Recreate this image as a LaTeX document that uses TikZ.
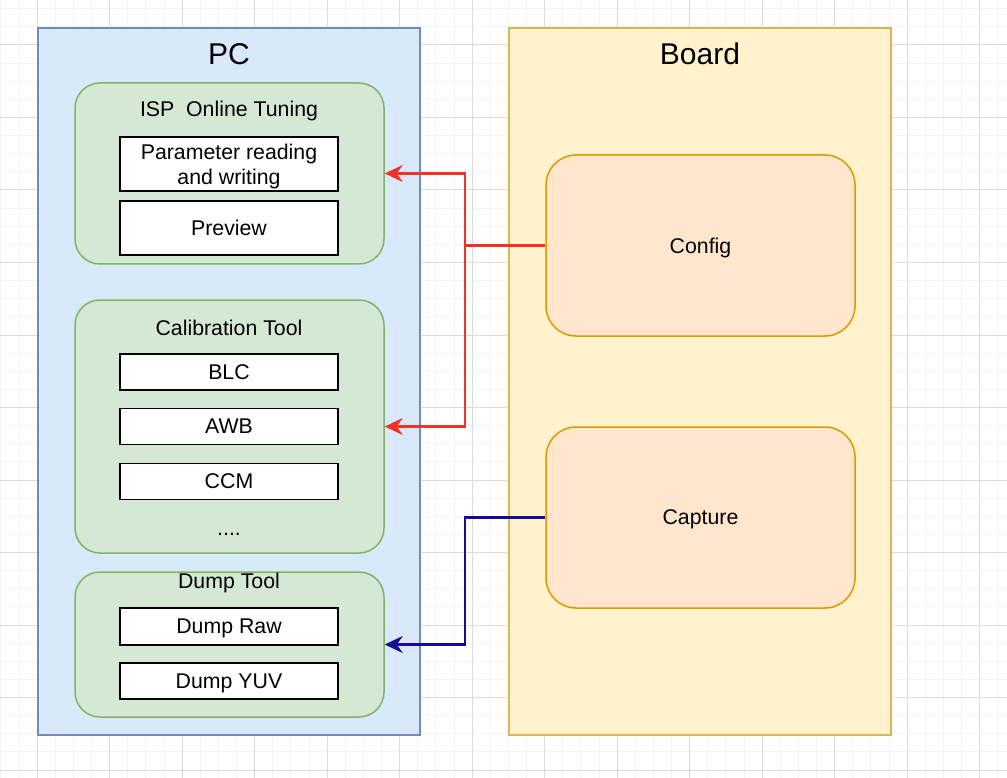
\documentclass[tikz,border=0pt]{standalone}
\usepackage{fontspec}
\setmainfont{Liberation Sans}
\usepackage{tikz}
\usetikzlibrary{arrows.meta,calc}

\definecolor{pcfill}{HTML}{DAE8FC}
\definecolor{pcline}{HTML}{6C8EBF}
\definecolor{bdfill}{HTML}{FFF2CC}
\definecolor{bdline}{HTML}{D6B656}
\definecolor{grfill}{HTML}{D5E8D4}
\definecolor{grline}{HTML}{82B366}
\definecolor{orfill}{HTML}{FFE6CC}
\definecolor{orline}{HTML}{D79B00}
\definecolor{redline}{RGB}{240,50,40}
\definecolor{blueline}{RGB}{24,10,150}
\definecolor{minorgrid}{RGB}{243,243,243}
\definecolor{majorgrid}{RGB}{218,218,218}

\tikzset{
  txt/.style={font=\fontsize{21.3}{25}\selectfont},
  ttl/.style={font=\fontsize{30}{36}\selectfont},
  part/.style={draw, line width=1.5pt, minimum width=382pt, minimum height=707pt},
  grp/.style={draw=grline, fill=grfill, line width=1.5pt, rounded corners=25pt, minimum width=309pt},
  itm/.style={draw, fill=white, line width=1.5pt, minimum width=218pt, txt, align=center, text depth=0pt},
  blk/.style={draw=orline, fill=orfill, line width=1.5pt, rounded corners=30pt, minimum width=309pt, minimum height=181pt, txt, text depth=0pt},
  lnk/.style={line width=2.2pt, -{Stealth[length=18pt,width=17pt,inset=6pt]}}
}

\begin{document}
\begin{tikzpicture}[x=1pt,y=-1pt]

\useasboundingbox (0,0) rectangle (1007,778);
\fill[white] (0,0) rectangle (1007,778);

% grid
\foreach \i in {-2,...,53} \draw[minorgrid, line width=1pt] ({37.2+\i*18.125},0) -- ({37.2+\i*18.125},778);
\foreach \j in {-2,...,40} \draw[minorgrid, line width=1pt] (0,{45+\j*18.125}) -- (1007,{45+\j*18.125});
\foreach \i in {0,...,13} \draw[majorgrid, line width=1pt] ({37.2+\i*72.5},0) -- ({37.2+\i*72.5},778);
\foreach \j in {0,...,10} \draw[majorgrid, line width=1pt] (0,{45+\j*72.5}) -- (1007,{45+\j*72.5});

\node[part, draw=pcline, fill=pcfill] (pc) at (229,381.5) {};
\node[part, draw=bdline, fill=bdfill] (bd) at (700,381.5) {};
\node[ttl] at (229,54) {PC};
\node[ttl] at (700,54) {Board};

\node[grp, minimum height=181pt] (isp) at (229.5,173.5) {};
\node[txt] at (229,111) {ISP~~Online Tuning};
\node[itm, minimum height=54pt] (prm) at (229,164) {Parameter reading\\and writing};
\node[itm, minimum height=54pt] (prv) at (229,228) {Preview};

\node[grp, minimum height=253pt] (cal) at (229.5,426.5) {};
\node[txt] at (229,328) {Calibration Tool};
\node[itm, minimum height=36pt] (blc) at (229,372) {BLC};
\node[itm, minimum height=36pt] (awb) at (229,426.5) {AWB};
\node[itm, minimum height=36pt] (ccm) at (229,481.5) {CCM};
\node[txt, anchor=base] at (229,535) {....};

\node[grp, minimum height=145pt] (dmp) at (229.5,644.5) {};
\node[txt] at (229,582.5) {Dump Tool};
\node[itm, minimum height=37pt] (raw) at (229,626.5) {Dump Raw};
\node[itm, minimum height=36pt] (yuv) at (229,681) {Dump YUV};

\node[blk] (cfg) at (700.5,245.5) {Config};
\node[blk] (cap) at (700.5,517.5) {Capture};

\coordinate (j1) at (465,245.5);
\coordinate (j2) at (465,517.5);

\draw[lnk, color=redline] (cfg.west) -- (j1) |- (isp.east);
\draw[lnk, color=redline] (j1) |- (cal.east);
\draw[lnk, color=blueline] (cap.west) -- (j2) |- (dmp.east);

\end{tikzpicture}
\end{document}
